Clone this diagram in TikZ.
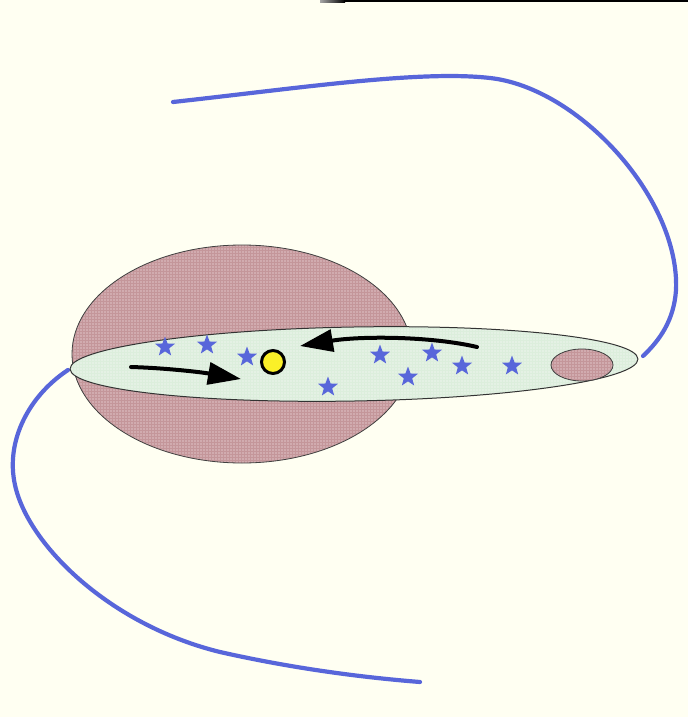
\documentclass[tikz,border=0pt]{standalone}
\usetikzlibrary{shapes.geometric,arrows.meta,patterns.meta}
\definecolor{paper}{RGB}{255,255,242}
\definecolor{orbitblue}{RGB}{88,102,218}
\definecolor{halobase}{RGB}{196,150,154}
\definecolor{diskbase}{RGB}{220,238,220}
\definecolor{sunyellow}{RGB}{250,240,40}
\tikzset{
  orbit/.style={orbitblue, line width=4.2pt, line cap=round, line join=round},
  halo/.style={fill=halobase, draw=none},
  halodots/.style={pattern={Dots[radius=0.7pt, distance=3pt]}, pattern color=white!85!pink},
  disk/.style={fill=diskbase, draw=none},
  diskdots/.style={pattern={Dots[radius=0.6pt, distance=3pt]}, pattern color=white},
  staricon/.style={star, star points=5, star point ratio=2.4, minimum size=21pt,
    inner sep=0pt, fill=orbitblue, draw=none},
  sunicon/.style={circle, minimum size=23pt, inner sep=0pt, fill=sunyellow,
    draw=black, line width=3pt},
  motion/.style={black, line width=4pt, line cap=round,
    -{Triangle[length=33pt, width=22pt]}}
}
\begin{document}
\begin{tikzpicture}[x=1pt, y=-1pt]
  % page and frame
  \fill[paper] (0,0) rectangle (688,717);
  \useasboundingbox (0,0) rectangle (688,717);
  \shade[left color=black!35, right color=black] (320,0) rectangle (345,2.5);
  \fill[black] (344,0) rectangle (688,2.5);

  % outer orbit tracks
  \coordinate (topstart) at (173,102);
  \coordinate (topend) at (643,356);
  \draw[orbit] (topstart) .. controls (300,88) and (420,70) .. (490,78)
    .. controls (580,88) and (680,200) .. (676,290)
    .. controls (674,320) and (660,340) .. (topend);
  \coordinate (lowstart) at (68,370);
  \coordinate (lowend) at (420,682);
  \draw[orbit] (lowstart) .. controls (30,395) and (5,440) .. (15,485)
    .. controls (28,545) and (110,625) .. (220,652)
    .. controls (300,670) and (370,678) .. (lowend);

  % central bulge
  \path[halo] (242,354) ellipse [x radius=170, y radius=109];
  \path[halodots] (242,354) ellipse [x radius=170, y radius=109];
  \draw[black!75, line width=0.8pt] (242,354) ellipse [x radius=170, y radius=109];

  % galactic disk
  \path[disk] (354,364) ellipse [x radius=284, y radius=37, rotate=1];
  \path[diskdots] (354,364) ellipse [x radius=284, y radius=37, rotate=1];
  \draw[black!80, line width=1pt] (354,364) ellipse [x radius=284, y radius=37, rotate=1];

  % satellite cloud at the disk end
  \path[halo] (582,365) ellipse [x radius=31, y radius=16];
  \path[halodots] (582,365) ellipse [x radius=31, y radius=16];
  \draw[black!75, line width=0.8pt] (582,365) ellipse [x radius=31, y radius=16];

  % stars in the disk
  \node[staricon] (s1) at (165,347) {};
  \node[staricon] (s2) at (207,345) {};
  \node[staricon] (s3) at (247,357) {};
  \node[staricon] (s4) at (328,387) {};
  \node[staricon] (s5) at (380,355) {};
  \node[staricon] (s6) at (408,377) {};
  \node[staricon] (s7) at (432,353) {};
  \node[staricon] (s8) at (462,366) {};
  \node[staricon] (s9) at (512,366) {};

  % the Sun
  \node[sunicon] (sun) at (273,362) {};

  % direction of rotation
  \coordinate (lowtail) at (131,367);
  \coordinate (lowtip) at (241,379);
  \draw[motion] (lowtail) .. controls (165,368) and (200,372) .. (lowtip);
  \coordinate (uptail) at (477,347);
  \coordinate (uptip) at (300,346);
  \draw[motion] (uptail) .. controls (430,336) and (360,336) .. (uptip);
\end{tikzpicture}
\end{document}
